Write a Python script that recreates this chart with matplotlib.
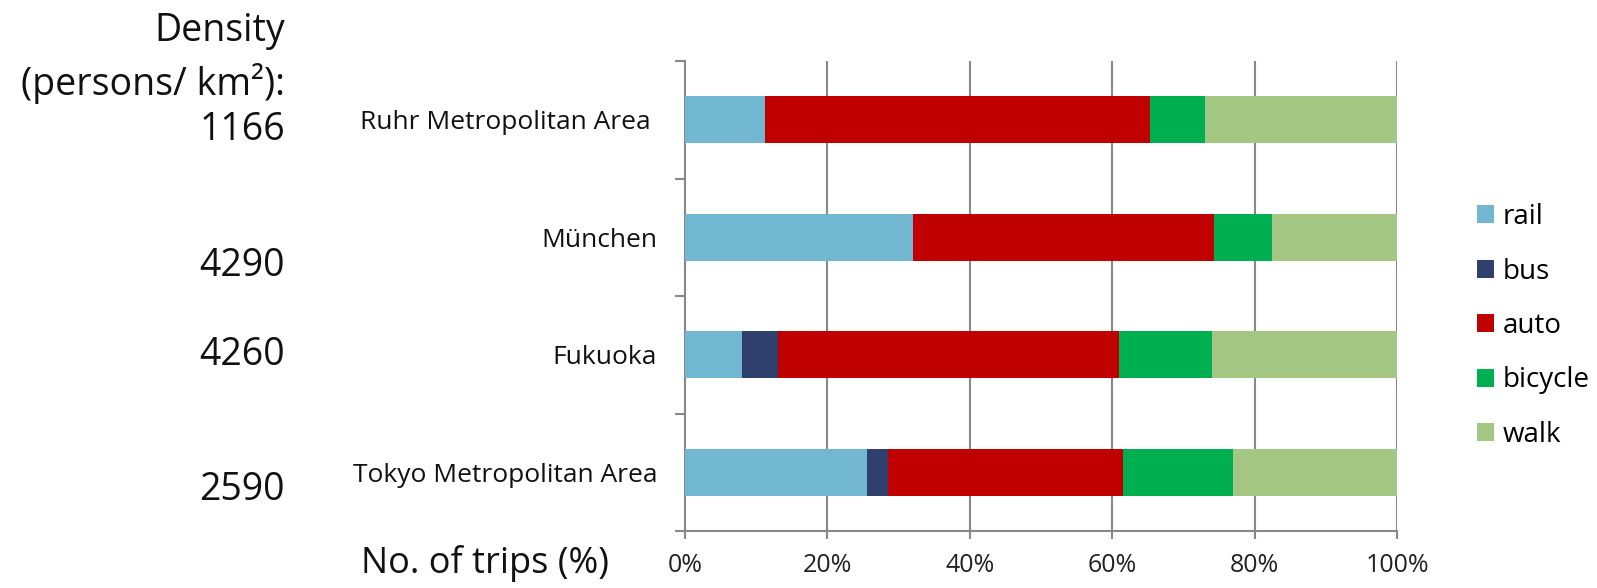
import numpy as np
import matplotlib.pyplot as plt
from matplotlib.patches import Patch

plt.rcParams['font.family'] = ['Open Sans', 'DejaVu Sans']

cities = ["Ruhr Metropolitan Area ", "München", "Fukuoka", "Tokyo Metropolitan Area"]
density = ["1166", "4290", "4260", "2590"]
modes = ["rail", "bus", "auto", "bicycle", "walk"]
colors = ["#70B7CF", "#2F406D", "#C00000", "#00B050", "#A3C682"]

# share of trips (%) per mode, rows follow cities
rail = [11.2, 32.0, 8.0, 25.5]
bus = [0.0, 0.0, 5.0, 3.0]
auto = [54.1, 42.3, 47.9, 33.0]
bicycle = [7.7, 8.1, 13.1, 15.4]
walk = [27.0, 17.6, 26.0, 23.1]
shares = [rail, bus, auto, bicycle, walk]

fig = plt.figure(figsize=(15.97, 5.88), dpi=100)
ax = fig.add_axes([685/1597, 1-531/588, 712/1597, 470/588])

y = np.arange(len(cities))
left = np.zeros(len(cities))
for vals, c, m in zip(shares, colors, modes):
    ax.barh(y, vals, left=left, height=0.4, color=c, label=m, zorder=3)
    left += np.array(vals)

ax.set_xlim(0, 100)
ax.set_ylim(3.5, -0.5)
ax.set_xticks(np.arange(0, 101, 20))
ax.set_xticklabels([f"{v}%" for v in range(0, 101, 20)], fontsize=18, color="#222222")
ax.set_yticks(y)
ax.set_yticklabels(cities, fontsize=19, color="#111111")
ax.set_yticks(np.arange(-0.5, 3.6, 1), minor=True)
ax.tick_params(axis='y', which='major', length=0, pad=20)
ax.tick_params(axis='y', which='minor', length=7, width=1.5, color="#888888", direction='out')
ax.tick_params(axis='x', length=6, width=1.5, color="#888888", pad=10)
ax.grid(axis='x', color="#888888", linewidth=1.5, zorder=0)
for s in ['top', 'right']:
    ax.spines[s].set_visible(False)
for s in ['left', 'bottom']:
    ax.spines[s].set_color("#888888")
    ax.spines[s].set_linewidth(1.5)

# density labels on the far left
fig.text(285/1597, 1-31/588, "Density", fontsize=27, ha='right', va='center', color="#111111")
fig.text(285/1597, 1-83/588, "(persons/ km²):", fontsize=27, ha='right', va='center', color="#111111")
for d, yy in zip(density, [130, 266, 355, 490]):
    fig.text(285/1597, 1-yy/588, d, fontsize=27, ha='right', va='center', color="#111111")

fig.text(485/1597, 1-563/588, "No. of trips (%)", fontsize=26, ha='center', va='center', color="#111111")

handles = [Patch(facecolor=c, label=m) for c, m in zip(colors, modes)]
fig.legend(handles=handles, loc='center left', bbox_to_anchor=(1452/1597, 1-326/588),
           frameon=False, fontsize=20, handlelength=0.62, handleheight=0.62,
           handletextpad=0.3, labelspacing=0.95)

fig.savefig("out.png", dpi=100)
